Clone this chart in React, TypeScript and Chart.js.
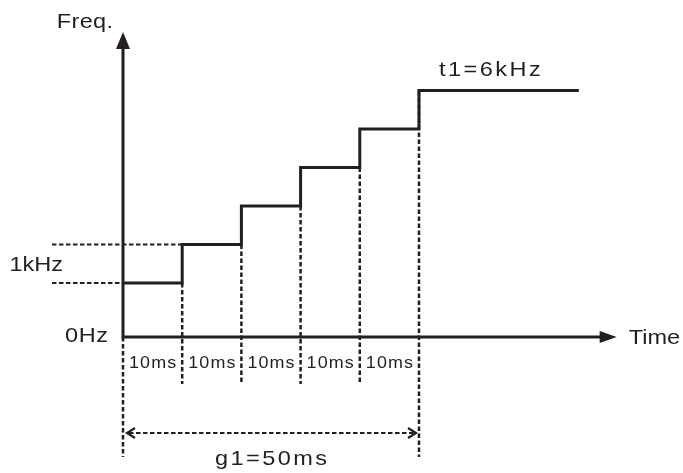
import React, { useEffect, useRef } from 'react';
import { Chart, registerables } from 'chart.js';

Chart.register(...registerables);

// ---- data ----
const stepStartsMs = [0, 10, 20, 30, 40, 50];
const stepFreqKHz = [1, 2, 3, 4, 5, 6];
const holdEndMs = 77;
const segmentLabels = ['10ms', '10ms', '10ms', '10ms', '10ms'];
const yAxisTitle = 'Freq.';
const xAxisTitle = 'Time';
const zeroLabel = '0Hz';
const stepSizeLabel = '1kHz';
const targetLabel = 't1=6kHz';
const spanLabel = 'g1=50ms';
const xAxisEndMs = 83.4;
const yRangeKHz = [-0.4, 6];
const yAxisEndKHz = 7.52;
const guideStartMs = -12;

const INK = '#231f20';
const FONT = '"Liberation Sans", Arial, Helvetica, sans-serif';
const STRETCH = 1.12;

function drawText(ctx: CanvasRenderingContext2D, s: string, px: number, py: number, align: CanvasTextAlign, size: number, ls: number) {
  ctx.save();
  ctx.font = `${size}px ${FONT}`;
  (ctx as any).letterSpacing = `${ls}px`;
  ctx.textAlign = align;
  ctx.textBaseline = 'alphabetic';
  ctx.fillStyle = INK;
  ctx.translate(px, py);
  ctx.scale(STRETCH, 1);
  let x = 0;
  if (align === 'center') x += ls / 2;
  if (align === 'right') x += ls;
  ctx.fillText(s, x, 0);
  ctx.restore();
}

function dotted(ctx: CanvasRenderingContext2D, x1: number, y1: number, x2: number, y2: number, w: number) {
  ctx.save();
  ctx.strokeStyle = INK;
  ctx.lineWidth = w;
  ctx.setLineDash([4.5, 2.5]);
  ctx.lineCap = 'butt';
  ctx.beginPath();
  ctx.moveTo(x1, y1);
  ctx.lineTo(x2, y2);
  ctx.stroke();
  ctx.restore();
}

const diagramPlugin = {
  id: 'diagram',
  beforeDatasetsDraw(chart: any) {
    const { ctx, scales } = chart;
    const X = (v: number) => scales.x.getPixelForValue(v);
    const Y = (v: number) => scales.y.getPixelForValue(v);
    const ax = X(0);
    const ay = Y(yRangeKHz[0]);

    // guides for step size
    dotted(ctx, X(guideStartMs), Y(stepFreqKHz[0]), ax, Y(stepFreqKHz[0]), 2);
    dotted(ctx, X(guideStartMs), Y(stepFreqKHz[1]), X(stepStartsMs[1]), Y(stepFreqKHz[1]), 2);

    // vertical guides
    const last = stepStartsMs.length - 1;
    dotted(ctx, ax, ay, ax, ay + 120, 2.5);
    for (let i = 1; i < last; i++) {
      dotted(ctx, X(stepStartsMs[i]), Y(stepFreqKHz[i - 1]), X(stepStartsMs[i]), ay + 47, 2.5);
    }
    dotted(ctx, X(stepStartsMs[last]), Y(stepFreqKHz[last]), X(stepStartsMs[last]), ay + 120, 2.5);

    // axes
    ctx.save();
    ctx.strokeStyle = INK;
    ctx.lineWidth = 3;
    ctx.lineCap = 'butt';
    ctx.beginPath();
    ctx.moveTo(ax, ay + 1.5);
    ctx.lineTo(ax, Y(yAxisEndKHz) + 10);
    ctx.moveTo(ax - 1.5, ay);
    ctx.lineTo(X(xAxisEndMs) - 10, ay);
    ctx.stroke();
    // arrowheads
    ctx.fillStyle = INK;
    const ty = Y(yAxisEndKHz);
    ctx.beginPath();
    ctx.moveTo(ax, ty);
    ctx.lineTo(ax + 7, ty + 17);
    ctx.lineTo(ax - 7, ty + 17);
    ctx.closePath();
    ctx.fill();
    const tx = X(xAxisEndMs);
    ctx.beginPath();
    ctx.moveTo(tx, ay);
    ctx.lineTo(tx - 17, ay + 6);
    ctx.lineTo(tx - 17, ay - 6);
    ctx.closePath();
    ctx.fill();
    ctx.restore();

    // dimension arrow
    const dy = ay + 96;
    const x0 = X(stepStartsMs[0]) + 4;
    const x1 = X(stepStartsMs[last]) - 3;
    dotted(ctx, x0 + 2, dy, x1 - 2, dy, 2);
    ctx.save();
    ctx.strokeStyle = INK;
    ctx.lineWidth = 2.2;
    ctx.beginPath();
    ctx.moveTo(x0 + 8, dy - 5);
    ctx.lineTo(x0, dy);
    ctx.lineTo(x0 + 8, dy + 5);
    ctx.moveTo(x1 - 8, dy - 5);
    ctx.lineTo(x1, dy);
    ctx.lineTo(x1 - 8, dy + 5);
    ctx.stroke();
    ctx.restore();
  },
  afterDatasetsDraw(chart: any) {
    const { ctx, scales } = chart;
    const X = (v: number) => scales.x.getPixelForValue(v);
    const Y = (v: number) => scales.y.getPixelForValue(v);
    const ax = X(0);
    const ay = Y(yRangeKHz[0]);
    const last = stepStartsMs.length - 1;

    drawText(ctx, yAxisTitle, ax - 10, Y(yAxisEndKHz) - 4, 'right', 21, 0.3);
    drawText(ctx, stepSizeLabel, ax - 60, Y((stepFreqKHz[0] + stepFreqKHz[1]) / 2) + 7.5, 'right', 21, 0);
    drawText(ctx, zeroLabel, ax - 15, ay + 5, 'right', 21, 0.5);
    drawText(ctx, xAxisTitle, X(xAxisEndMs) + 12, ay + 7, 'left', 21, 0);
    drawText(ctx, targetLabel, X(stepStartsMs[last]) + 20, Y(stepFreqKHz[last]) - 14.5, 'left', 21, 2.2);
    for (let i = 0; i < segmentLabels.length; i++) {
      const cx = (X(stepStartsMs[i]) + X(stepStartsMs[i + 1])) / 2;
      drawText(ctx, segmentLabels[i], cx, ay + 31, 'center', 16, 1);
    }
    drawText(ctx, spanLabel, (X(stepStartsMs[0]) + X(stepStartsMs[last])) / 2, ay + 128, 'center', 21, 2.2);
  },
};

export default function App() {
  const ref = useRef<HTMLCanvasElement | null>(null);
  useEffect(() => {
    if (!ref.current) return;
    const points = stepStartsMs.map((t, i) => ({ x: t, y: stepFreqKHz[i] }));
    points.push({ x: holdEndMs, y: stepFreqKHz[stepFreqKHz.length - 1] });
    const chart = new Chart(ref.current, {
      type: 'line',
      data: {
        datasets: [
          {
            data: points,
            stepped: 'before',
            borderColor: INK,
            borderWidth: 3,
            borderJoinStyle: 'miter',
            borderCapStyle: 'butt',
            pointRadius: 0,
            fill: false,
            clip: false,
          } as any,
        ],
      },
      options: {
        animation: false,
        responsive: false,
        devicePixelRatio: 1,
        events: [],
        layout: { padding: { left: 123, right: 66.3, top: 90.5, bottom: 136 } },
        scales: {
          x: { type: 'linear', min: 0, max: xAxisEndMs, display: false },
          y: { type: 'linear', min: yRangeKHz[0], max: yRangeKHz[1], display: false },
        },
        plugins: { legend: { display: false }, tooltip: { enabled: false } },
      },
      plugins: [diagramPlugin],
    });
    return () => chart.destroy();
  }, []);
  return (
    <div style={{ position: 'fixed', left: 0, top: 0, width: 683, height: 473, background: '#fff' }}>
      <canvas ref={ref} width={683} height={473} style={{ display: 'block' }} />
    </div>
  );
}
